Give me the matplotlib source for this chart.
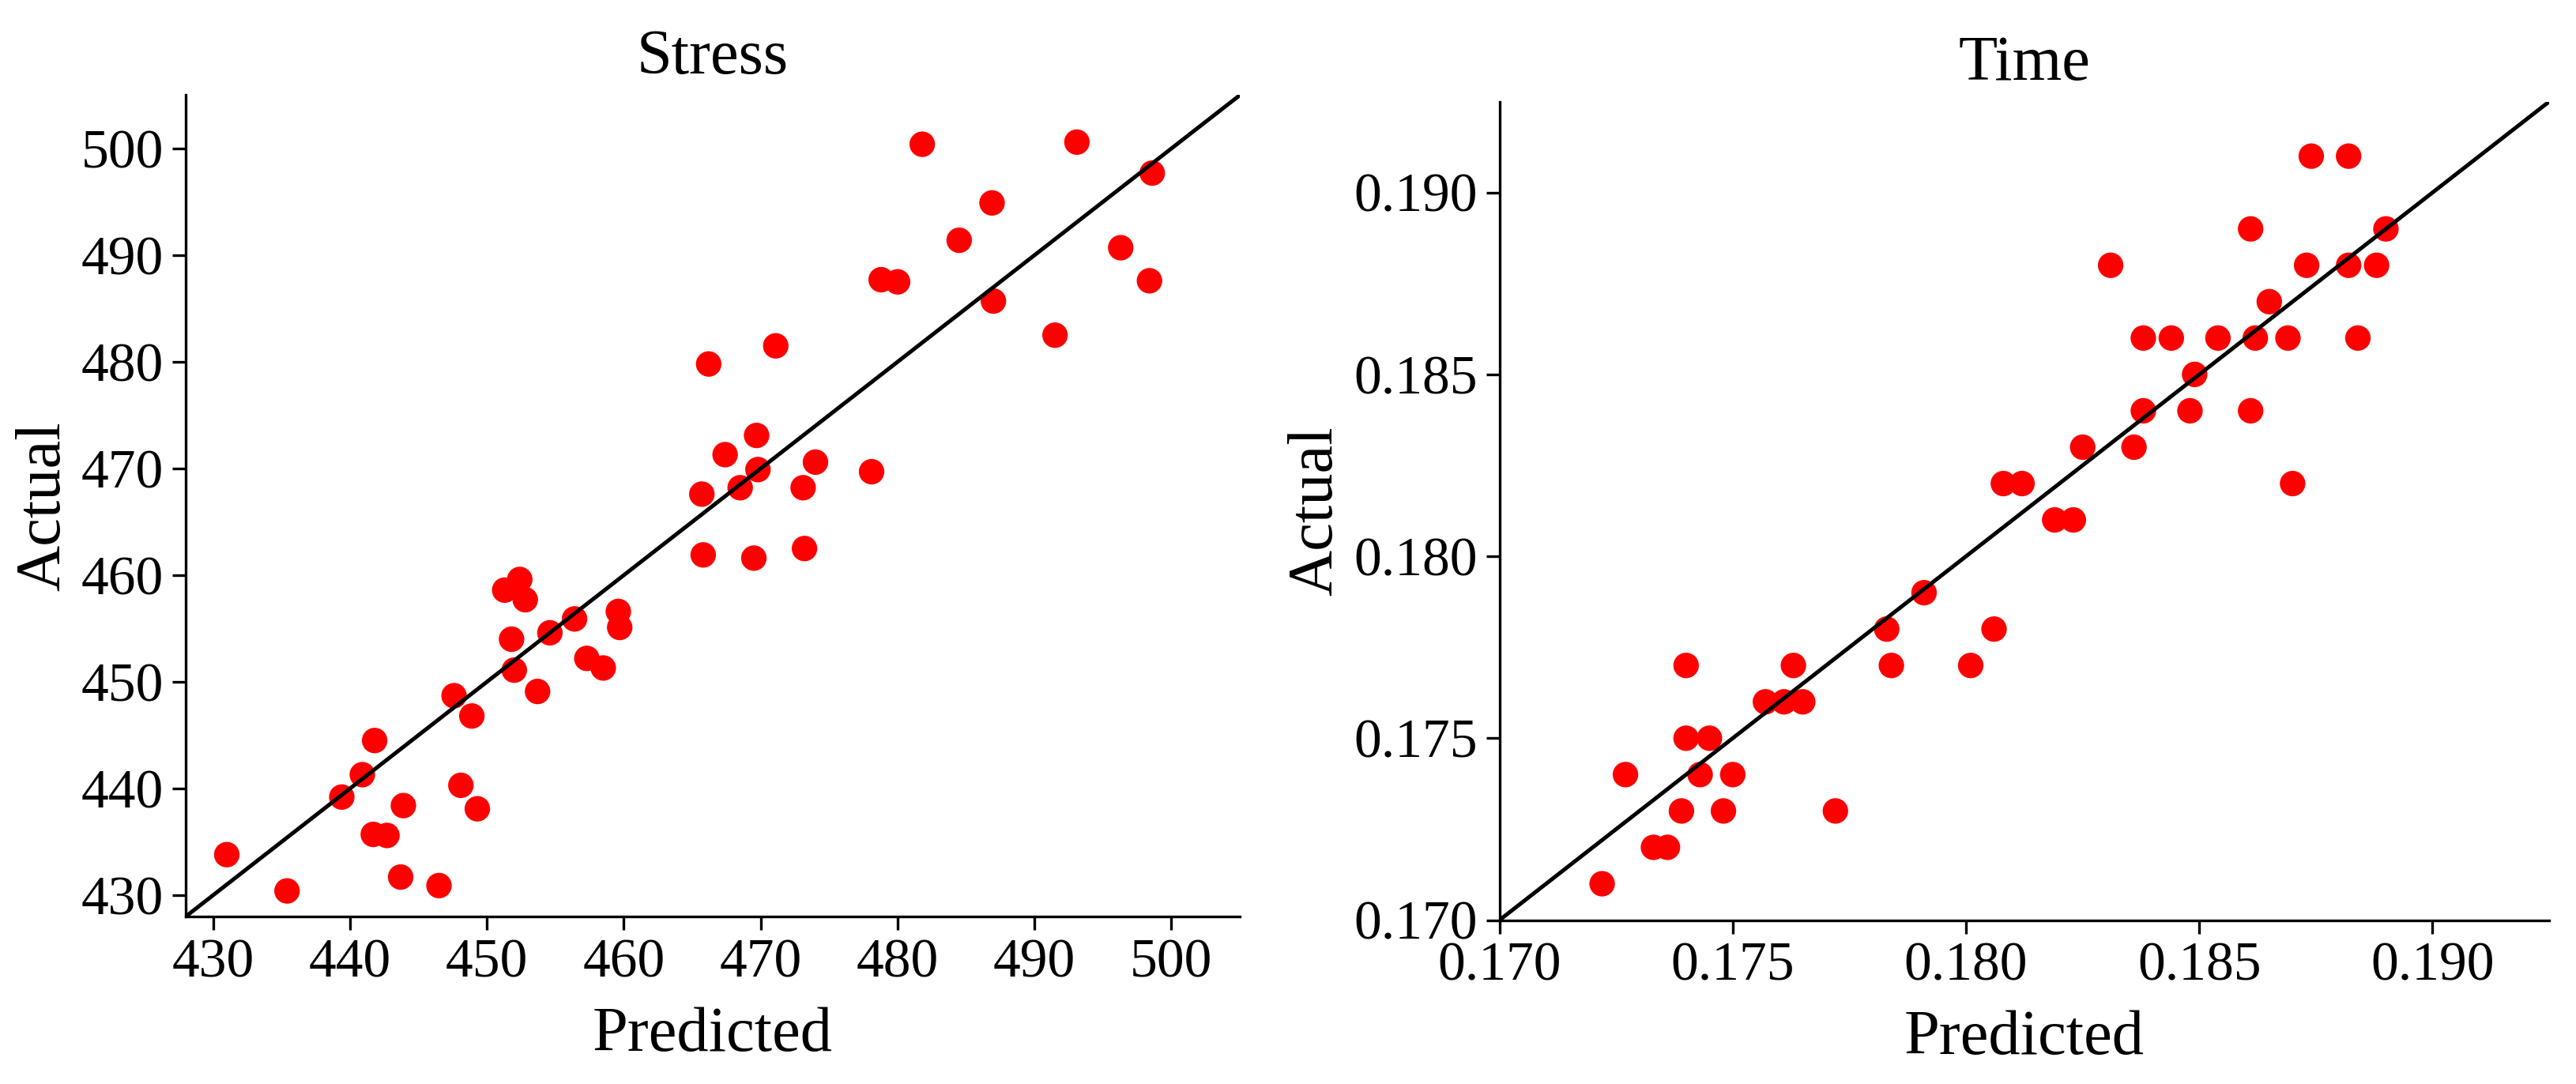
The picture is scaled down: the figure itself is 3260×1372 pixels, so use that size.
import matplotlib.pyplot as plt

# Stress: predicho vs real
stress_pred = [431.0, 435.4, 439.4, 440.9, 441.8, 441.7, 442.7, 443.9, 443.7, 446.5,
               447.6, 448.9, 448.1, 449.3, 451.3, 452.4, 452.8, 451.8, 452.0, 453.7,
               454.6, 456.4, 457.3, 458.5, 459.6, 459.7, 465.7, 465.8, 469.7, 467.4,
               469.8, 468.5, 474.0, 473.1, 478.1, 469.5, 473.2, 471.1, 466.2, 478.8,
               480.0, 481.8, 484.5, 486.9, 487.0, 491.5, 493.1, 496.3, 498.6, 498.4]
stress_act = [433.8, 430.4, 439.2, 441.3, 444.5, 435.7, 435.6, 438.4, 431.7, 430.9,
              448.7, 446.8, 440.3, 438.1, 458.6, 459.6, 457.7, 454.0, 451.1, 449.1,
              454.6, 455.9, 452.2, 451.3, 456.6, 455.1, 467.6, 461.9, 473.1, 471.3,
              469.9, 468.2, 470.6, 468.2, 469.7, 461.6, 462.5, 481.5, 479.8, 487.7,
              487.5, 500.4, 491.4, 494.9, 485.7, 482.5, 500.6, 490.7, 497.7, 487.6]

# Time: predicho vs real
time_pred = [0.1722, 0.1727, 0.1733, 0.1736, 0.1739, 0.1740, 0.1740, 0.1743, 0.1745, 0.1748,
             0.1750, 0.1757, 0.1761, 0.1765, 0.1763, 0.1772, 0.1783, 0.1784, 0.1791, 0.1801,
             0.1806, 0.1808, 0.1812, 0.1819, 0.1823, 0.1825, 0.1836, 0.1838, 0.1848, 0.1861,
             0.1849, 0.1838, 0.1844, 0.1854, 0.1862, 0.1869, 0.1884, 0.1865, 0.1831, 0.1873,
             0.1882, 0.1888, 0.1861, 0.1890, 0.1874, 0.1882, 0.1870]
time_act = [0.171, 0.174, 0.172, 0.172, 0.173, 0.177, 0.175, 0.174, 0.175, 0.173,
            0.174, 0.176, 0.176, 0.176, 0.177, 0.173, 0.178, 0.177, 0.179, 0.177,
            0.178, 0.182, 0.182, 0.181, 0.181, 0.183, 0.183, 0.184, 0.184, 0.184,
            0.185, 0.186, 0.186, 0.186, 0.186, 0.186, 0.186, 0.187, 0.188, 0.188,
            0.188, 0.188, 0.189, 0.189, 0.191, 0.191, 0.182]

stress_ticks = [430, 440, 450, 460, 470, 480, 490, 500]
time_ticks = [0.170, 0.175, 0.180, 0.185, 0.190]
stress_lim = [428, 505]
time_lim = [0.170, 0.1925]

plt.rcParams['font.family'] = ['Liberation Serif', 'DejaVu Serif']


def panel(ax, pred, act, lim, ticks, titulo, fmt):
    ax.scatter(pred, act, s=135, color='#ff0000', edgecolors='none', zorder=2)
    # linea ideal y = x
    ax.plot(lim, lim, color='black', linewidth=1.8, zorder=3)
    ax.set_xlim(lim)
    ax.set_ylim(lim)
    ax.set_xticks(ticks)
    ax.set_yticks(ticks)
    ax.set_xticklabels([fmt.format(t) for t in ticks])
    ax.set_yticklabels([fmt.format(t) for t in ticks])
    for lado in ['top', 'right']:
        ax.spines[lado].set_visible(False)
    for lado in ['left', 'bottom']:
        ax.spines[lado].set_linewidth(1.2)
    ax.tick_params(labelsize=25, length=6, width=1.2, pad=4)
    ax.set_title(titulo, fontsize=29, pad=10)
    ax.set_xlabel('Predicted', fontsize=29, labelpad=8)
    ax.set_ylabel('Actual', fontsize=29, labelpad=4)


fig = plt.figure(figsize=(16.3, 6.86), dpi=200)
ax1 = fig.add_axes([0.0721, 0.1545, 0.4092, 0.7577])
ax2 = fig.add_axes([0.5821, 0.1512, 0.4075, 0.7551])

panel(ax1, stress_pred, stress_act, stress_lim, stress_ticks, 'Stress', '{:.0f}')
panel(ax2, time_pred, time_act, time_lim, time_ticks, 'Time', '{:.3f}')

fig.savefig('out.png', dpi=200)
